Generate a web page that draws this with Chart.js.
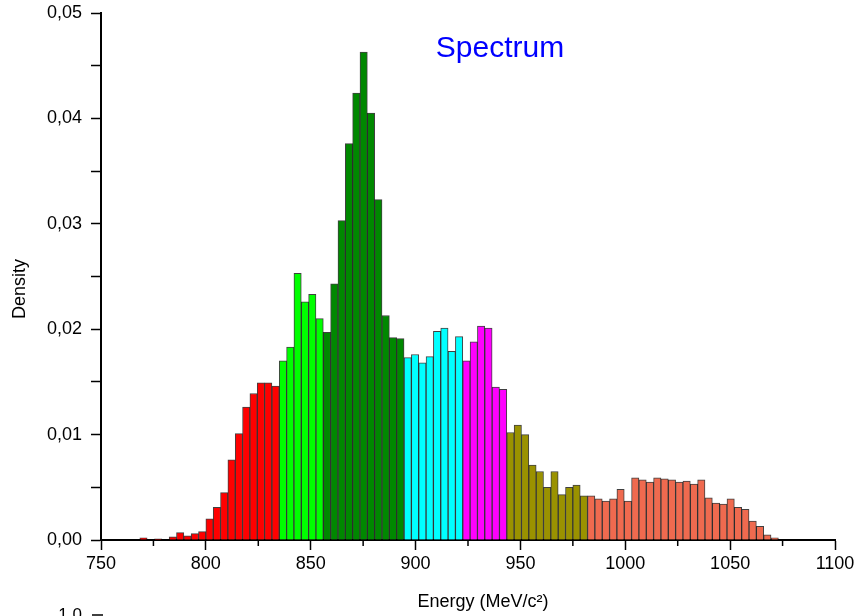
<!DOCTYPE html>
<html>
<head>
<meta charset="utf-8">
<script src="https://cdn.jsdelivr.net/npm/chart.js@4.4.0/dist/chart.umd.min.js"></script>
<style>
html, body { margin: 0; padding: 0; background: #fff; }
</style>
</head>
<body>
<canvas id="spectrum" width="854" height="616"></canvas>
<script>
// histogram bins, 3.5 MeV wide, grouped by colour band
const binWidth = 3.5;
const groupStarts = [768.5, 835, 856, 894.5, 922.5, 943.5, 982];
const groupColors = ['#ff0000', '#00ff00', '#008800', '#00ffff', '#ff00ff', '#9a9200', '#ef6a4f'];

const redBins = [0.0002, 0, 0.0001, 0, 0.0003, 0.0007, 0.0004, 0.0006, 0.0008, 0.0020,
    0.0031, 0.0045, 0.0076, 0.0101, 0.0126, 0.0139, 0.0149, 0.0149, 0.0146];
const lightGreenBins = [0.0170, 0.0183, 0.0253, 0.0226, 0.0233, 0.0210];
const darkGreenBins = [0.0197, 0.0243, 0.0303, 0.0376, 0.0424, 0.0463, 0.0405, 0.0323, 0.0213, 0.0192, 0.0191];
const cyanBins = [0.0173, 0.0176, 0.0168, 0.0174, 0.0198, 0.0201, 0.0179, 0.0193];
const magentaBins = [0.0170, 0.0188, 0.0203, 0.0201, 0.0145, 0.0143];
const oliveBins = [0.0102, 0.0109, 0.0100, 0.0071, 0.0065, 0.0050, 0.0065, 0.0043, 0.0050, 0.0052, 0.0042];
const salmonBins = [0.0042, 0.0039, 0.0037, 0.0039, 0.0048, 0.0037, 0.0059, 0.0057, 0.0055, 0.0059,
    0.0058, 0.0057, 0.0055, 0.0056, 0.0053, 0.0057, 0.0040, 0.0035, 0.0034, 0.0039,
    0.0031, 0.0029, 0.0018, 0.0013, 0.0005, 0.0002];

const groups = [redBins, lightGreenBins, darkGreenBins, cyanBins, magentaBins, oliveBins, salmonBins];
const xTicks = [750, 800, 850, 900, 950, 1000, 1050, 1100];
const yLabels = ['0,00', '0,01', '0,02', '0,03', '0,04', '0,05'];

const FONT = "'Liberation Sans', Arial, sans-serif";

const datasets = groups.map((vals, g) => ({
    data: vals.map((y, i) => ({ x: groupStarts[g] + (i + 0.5) * binWidth, y })),
    backgroundColor: groupColors[g],
    borderColor: 'rgba(0,0,0,0.75)',
    borderWidth: 1,
    borderSkipped: 'bottom',
    barPercentage: 1,
    categoryPercentage: 1,
    grouped: false
}));

const extras = {
    id: 'extras',
    afterDraw(chart) {
        const ctx = chart.ctx;
        const x = chart.scales.x;
        const bottom = chart.chartArea.bottom;
        // short minor ticks halfway between labelled ones
        ctx.save();
        ctx.strokeStyle = '#000';
        ctx.lineWidth = 1.5;
        for (let i = 0; i < xTicks.length - 1; i++) {
            const px = x.getPixelForValue((xTicks[i] + xTicks[i + 1]) / 2);
            ctx.beginPath();
            ctx.moveTo(px, bottom);
            ctx.lineTo(px, bottom + 6);
            ctx.stroke();
        }
        ctx.fillStyle = '#0000ff';
        ctx.font = '30px ' + FONT;
        ctx.textAlign = 'center';
        ctx.textBaseline = 'alphabetic';
        ctx.fillText('Spectrum', 500, 57);
        // axis titles drawn here so they sit where the original has them
        ctx.fillStyle = '#000';
        ctx.font = '18px ' + FONT;
        ctx.textBaseline = 'middle';
        ctx.fillText('Energy (MeV/c²)', 483, 602);
        ctx.save();
        ctx.translate(20, 289);
        ctx.rotate(-Math.PI / 2);
        ctx.fillText('Density', 0, 0);
        ctx.restore();
        // top of the next panel peeking in
        ctx.font = '17px ' + FONT;
        ctx.textAlign = 'right';
        ctx.textBaseline = 'top';
        ctx.fillText('1,0', 82, 607);
        ctx.beginPath();
        ctx.moveTo(92, 615);
        ctx.lineTo(103, 615);
        ctx.stroke();
        ctx.restore();
    }
};

new Chart(document.getElementById('spectrum'), {
    type: 'bar',
    data: { datasets },
    options: {
        responsive: false,
        animation: false,
        layout: { padding: { top: 13, right: 19, left: 0, bottom: 0 } },
        plugins: { legend: { display: false }, tooltip: { enabled: false } },
        scales: {
            x: {
                type: 'linear',
                min: 750,
                max: 1100,
                offset: false,
                afterFit: s => { s.height = 76; s.paddingRight = 0; s.paddingLeft = 0; },
                afterBuildTicks: s => { s.ticks = xTicks.map(v => ({ value: v })); },
                ticks: {
                    color: '#000', font: { family: FONT, size: 18 }, padding: 3,
                    maxRotation: 0, autoSkip: false,
                    callback: v => String(v)
                },
                grid: { offset: false, drawOnChartArea: false, drawTicks: true, tickLength: 10, tickColor: '#000', tickWidth: 1.5 },
                border: { color: '#000', width: 2 }
            },
            y: {
                min: 0,
                max: 0.05,
                afterFit: s => { s.width = 101; s.paddingTop = 0; s.paddingBottom = 0; },
                ticks: {
                    stepSize: 0.005,
                    autoSkip: false,
                    color: '#000',
                    font: { family: FONT, size: 18 },
                    padding: 9,
                    callback: v => {
                        const k = Math.round(v * 200);
                        return k % 2 === 0 ? yLabels[k / 2] : '';
                    }
                },
                grid: { drawOnChartArea: false, drawTicks: true, tickLength: 10, tickColor: '#000', tickWidth: 1.5 },
                border: { color: '#000', width: 2 }
            }
        }
    },
    plugins: [extras]
});
</script>
</body>
</html>
